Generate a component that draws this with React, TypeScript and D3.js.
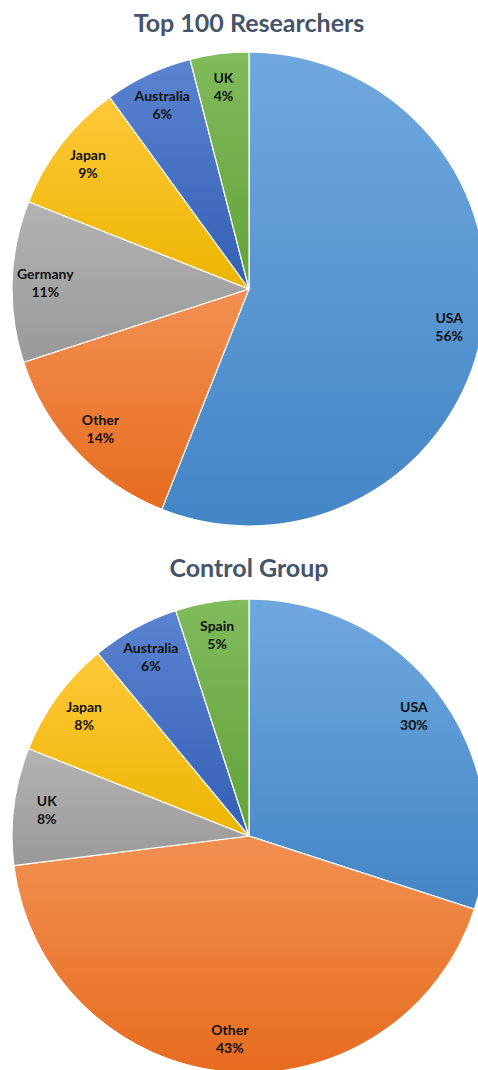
import React, { useEffect, useRef } from 'react';
import * as d3 from 'd3';

// Top 100 researchers, share by country (clockwise from 12 o'clock)
const topCountries = ['USA', 'Other', 'Germany', 'Japan', 'Australia', 'UK'];
const topValues = [56, 14, 11, 9, 6, 4];

// Control group
const controlCountries = ['USA', 'Other', 'UK', 'Japan', 'Australia', 'Spain'];
const controlValues = [30, 43, 8, 8, 6, 5];

const titles = ['Top 100 Researchers', 'Control Group'];

// slot colours: light top / dark bottom of each slice gradient
const palette = [
  ['#6fa8de', '#4485c6'], // blue
  ['#f29052', '#e66c1f'], // orange
  ['#b3b3b3', '#999999'], // gray
  ['#ffc83a', '#ecb500'], // yellow
  ['#5a84d0', '#335fb5'], // dark blue
  ['#80bb5c', '#63a23a'], // green
];

const App: React.FC = () => {
  const ref = useRef<SVGSVGElement>(null);

  useEffect(() => {
    document.body.style.margin = '0';
    const width = 478;
    const height = 1070;
    const svg = d3.select(ref.current).attr('width', width).attr('height', height);
    svg.selectAll('*').remove();

    const defs = svg.append('defs');
    palette.forEach((c, i) => {
      const g = defs.append('linearGradient')
        .attr('id', `grad${i}`)
        .attr('x1', 0).attr('y1', 0).attr('x2', 0).attr('y2', 1);
      g.append('stop').attr('offset', '0%').attr('stop-color', c[0]);
      g.append('stop').attr('offset', '100%').attr('stop-color', c[1]);
    });

    const charts = [
      { names: topCountries, values: topValues, cy: 289, titleY: 32 },
      { names: controlCountries, values: controlValues, cy: 836, titleY: 577 },
    ];

    const radius = 237;
    const pie = d3.pie<number>().sort(null).value(d => d);
    const arc = d3.arc<d3.PieArcDatum<number>>().innerRadius(0).outerRadius(radius);
    const labelArc = d3.arc<d3.PieArcDatum<number>>().innerRadius(radius * 0.86).outerRadius(radius * 0.86);

    charts.forEach((c, ci) => {
      svg.append('text')
        .attr('x', 249)
        .attr('y', c.titleY)
        .attr('text-anchor', 'middle')
        .attr('font-family', 'Lato, "Open Sans", sans-serif')
        .attr('font-weight', 'bold')
        .attr('font-size', 25)
        .attr('fill', '#44546a')
        .text(titles[ci]);

      const g = svg.append('g').attr('transform', `translate(249,${c.cy})`);
      const arcs = pie(c.values);

      g.selectAll('path')
        .data(arcs)
        .enter()
        .append('path')
        .attr('d', arc)
        .attr('fill', (d, i) => `url(#grad${i})`)
        .attr('stroke', '#ffffff')
        .attr('stroke-width', 1.2);

      const labels = g.selectAll('g.lbl')
        .data(arcs)
        .enter()
        .append('g')
        .attr('class', 'lbl')
        .attr('transform', d => `translate(${labelArc.centroid(d)})`);

      labels.append('text')
        .attr('text-anchor', 'middle')
        .attr('font-family', 'Lato, "Open Sans", sans-serif')
        .attr('font-weight', 'bold')
        .attr('font-size', 14)
        .attr('fill', '#111111')
        .attr('y', -4)
        .text((d, i) => c.names[i]);

      labels.append('text')
        .attr('text-anchor', 'middle')
        .attr('font-family', 'Lato, "Open Sans", sans-serif')
        .attr('font-weight', 'bold')
        .attr('font-size', 14)
        .attr('fill', '#111111')
        .attr('y', 14)
        .text(d => `${d.data}%`);
    });
  }, []);

  return (
    <div>
      <svg ref={ref}></svg>
    </div>
  );
};

export default App;
